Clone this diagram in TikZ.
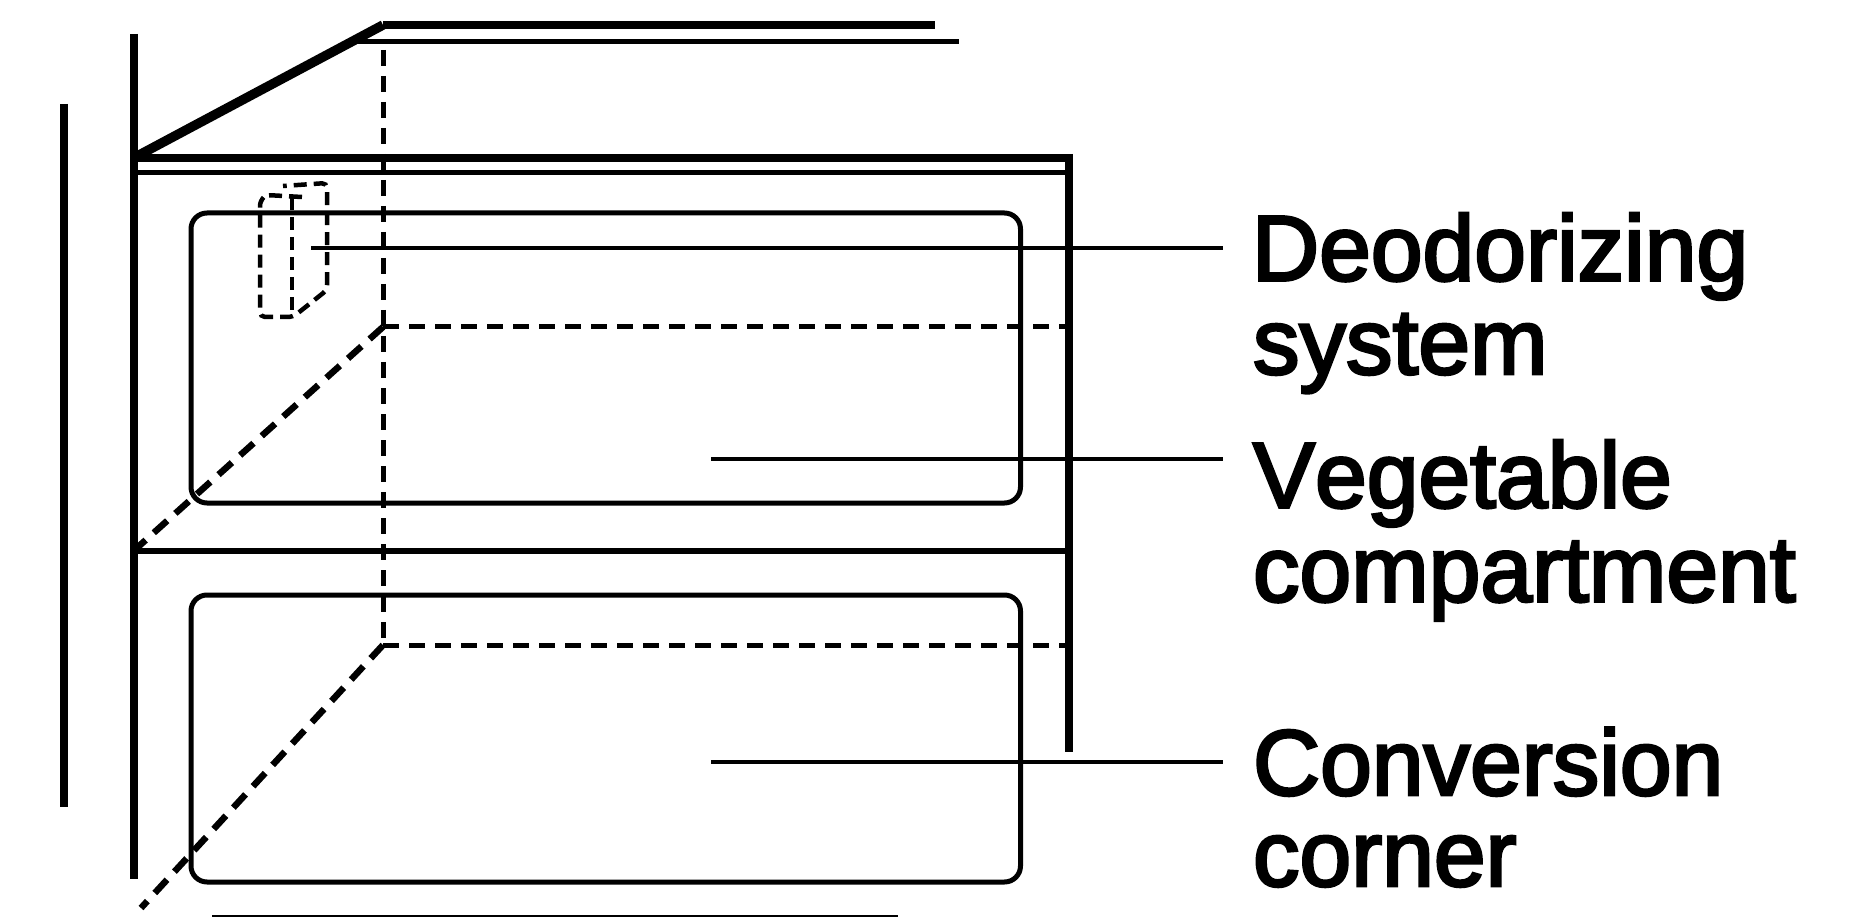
\documentclass[tikz,border=0pt]{standalone}
\usepackage{fontspec}
\newfontfamily\labelfont[FakeBold=3,Kerning=Off]{Liberation Sans}
\begin{document}
\begin{tikzpicture}[x=1pt,y=-1pt,thick line/.style={line width=8pt},thin line/.style={line width=5pt},
    dash line/.style={line width=5pt,dash pattern=on 16pt off 10pt},
    slant dash/.style={line width=6.5pt,dash pattern=on 18pt off 11pt},
    small dash/.style={line width=4.5pt,dash pattern=on 13pt off 7pt,rounded corners=5pt},
    box line/.style={line width=5pt,rounded corners=16pt},
    lead line/.style={line width=4.5pt},
    every node/.style={inner sep=0pt,outer sep=0pt,anchor=base west,font=\labelfont\fontsize{93}{93}\selectfont}]
    \useasboundingbox (0,0) rectangle (1856,917);
    \coordinate (top1) at (383,25);
    \coordinate (top2) at (935,25);
    \coordinate (back1) at (354,42);
    \coordinate (back2) at (959,42);
    \coordinate (post1) at (133.5,34);
    \coordinate (post2) at (133.5,879);
    \coordinate (edge) at (133.5,158);
    \coordinate (edge2) at (1073,158);
    \coordinate (rail1) at (133.5,173);
    \coordinate (rail2) at (1069,173);
    \coordinate (side1) at (1069,154);
    \coordinate (side2) at (1069,752);
    \coordinate (shelf1) at (133.5,551);
    \coordinate (shelf2) at (1069,551);
    \coordinate (far1) at (383,327);
    \coordinate (far2) at (1069,327);
    \coordinate (floor1) at (383,645);
    \coordinate (floor2) at (1069,645);
    \coordinate (front) at (141,908);
    \node (deodorizing) at (1252,280.5) {Deodorizing};
    \node (system) at (1253,374) {system};
    \node (vegetable) at (1253,507.5) {Vegetable};
    \node (compartment) at (1253,601.5) {compartment};
    \node (conversion) at (1253,795) {Conversion};
    \node (corner) at (1253,886) {corner};
    \draw[thick line] (64,104) -- (64,807);
    \draw[thick line] (post1) -- (post2);
    \draw[thick line,line width=9.5pt] (edge) -- (top1);
    \draw[thick line] (top1) -- (top2);
    \draw[thin line] (back1) -- (back2);
    \draw[thick line] (edge) -- (edge2);
    \draw[thin line] (rail1) -- (rail2);
    \draw[thick line] (side1) -- (side2);
    \draw[lead line,line width=6pt] (shelf1) -- (shelf2);
    \draw[box line] (191,213) rectangle (1020.5,503);
    \draw[box line] (191,595) rectangle (1020.5,882);
    \draw[thin line] (212,917) -- (898,917);
    \draw[dash line] (383,50) -- (floor1);
    \draw[dash line] (far1) -- (far2);
    \draw[dash line] (floor1) -- (floor2);
    \draw[slant dash] (far1) -- (shelf1);
    \draw[slant dash] (floor1) -- (front);
    \draw[small dash] (302,197) -- (266,195) -- (260,201) -- (260,317) -- (293,317) -- (327,290) -- (327,183) -- (283,186);
    \draw[small dash] (292,197) -- (292,317);
    \draw[lead line] (311,248) -- (1223,248);
    \draw[lead line] (711,459) -- (1223,459);
    \draw[lead line] (711,762) -- (1223,762);
\end{tikzpicture}
\end{document}
